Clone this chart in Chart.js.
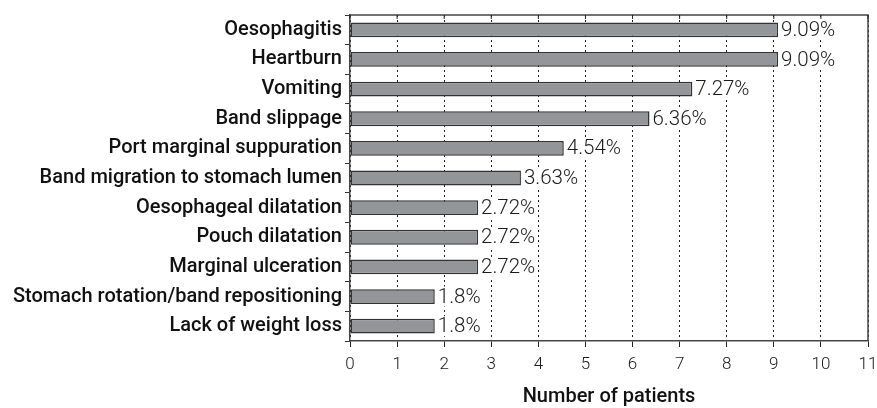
<!DOCTYPE html>
<html>
<head>
<meta charset="utf-8">
<script src="https://cdn.jsdelivr.net/npm/chart.js@4/dist/chart.umd.min.js"></script>
<style>
html,body{margin:0;padding:0;background:#fff;}
#wrap{width:877px;height:408px;}
</style>
</head>
<body>
<div id="wrap"><canvas id="c" width="877" height="408"></canvas></div>
<script>
const categories = [
  "Oesophagitis",
  "Heartburn",
  "Vomiting",
  "Band slippage",
  "Port marginal suppuration",
  "Band migration to stomach lumen",
  "Oesophageal dilatation",
  "Pouch dilatation",
  "Marginal ulceration",
  "Stomach rotation/band repositioning",
  "Lack of weight loss"
];
const values = [9.09, 9.09, 7.27, 6.36, 4.54, 3.63, 2.72, 2.72, 2.72, 1.8, 1.8];
const valueLabels = ["9.09%", "9.09%", "7.27%", "6.36%", "4.54%", "3.63%", "2.72%", "2.72%", "2.72%", "1.8%", "1.8%"];
const xTicks = [0,1,2,3,4,5,6,7,8,9,10,11];
const xTitle = "Number of patients";

const FONT = "Roboto, 'DejaVu Sans', sans-serif";

const labelPlugin = {
  id: 'valueLabels',
  afterDatasetsDraw(chart) {
    const ctx = chart.ctx;
    const meta = chart.getDatasetMeta(0);
    ctx.save();
    ctx.font = "300 20.5px " + FONT;
    ctx.textAlign = "left";
    ctx.textBaseline = "middle";
    meta.data.forEach((bar, i) => {
      const w = ctx.measureText(valueLabels[i]).width;
      ctx.fillStyle = "#ffffff";
      ctx.fillRect(bar.x + 2, bar.y - 10, w + 2, 20);
      ctx.fillStyle = "#1a1a1a";
      ctx.fillText(valueLabels[i], bar.x + 3, bar.y + 1);
    });
    ctx.restore();
  }
};

const framePlugin = {
  id: 'frame',
  afterDraw(chart) {
    const {ctx, chartArea} = chart;
    const xs = chart.scales.x;
    ctx.save();
    ctx.strokeStyle = "#444";
    ctx.lineWidth = 1.5;
    ctx.beginPath();
    ctx.moveTo(chartArea.left, chartArea.top);
    ctx.lineTo(chartArea.right, chartArea.top);
    ctx.lineTo(chartArea.right, chartArea.bottom);
    ctx.stroke();
    ctx.lineWidth = 1;
    ctx.strokeStyle = "#222";
    xTicks.forEach(v => {
      const px = xs.getPixelForValue(v);
      ctx.beginPath();
      ctx.moveTo(px, chartArea.top);
      ctx.lineTo(px, chartArea.top + 4);
      ctx.stroke();
    });
    ctx.restore();
  }
};

new Chart(document.getElementById('c'), {
  type: 'bar',
  data: {
    labels: categories,
    datasets: [{
      data: values,
      backgroundColor: '#939598',
      borderColor: '#333333',
      borderWidth: 1.5,
      borderSkipped: false,
      barPercentage: 0.5,
      categoryPercentage: 1.0
    }]
  },
  options: {
    indexAxis: 'y',
    responsive: false,
    animation: false,
    devicePixelRatio: 1,
    layout: { padding: { top: 14, right: 0, left: 0, bottom: 0 } },
    plugins: { legend: { display: false }, tooltip: { enabled: false } },
    scales: {
      x: {
        min: 0, max: 11,
        afterFit(s) { s.height = 67; s.paddingLeft = 0; s.paddingRight = 9; },
        afterBuildTicks(s) { s.ticks = xTicks.map(v => ({ value: v })); },
        ticks: {
          color: '#1a1a1a',
          font: { family: FONT, size: 17, weight: '300' },
          padding: 8,
          callback: (v) => String(v)
        },
        grid: {
          color: '#222',
          lineWidth: 1,
          tickLength: 6,
          tickColor: '#222',
          tickBorderDash: [],
          drawTicks: true
        },
        border: { display: true, color: '#444', width: 1.5, dash: [2, 3] },
        title: {
          display: true,
          text: xTitle,
          color: '#111',
          font: { family: FONT, size: 20, weight: '500', lineHeight: 1.0 },
          padding: { top: 4, bottom: 1 }
        }
      },
      y: {
        afterFit(s) { s.width = 350; },
        ticks: {
          color: '#111',
          font: { family: FONT, size: 20, weight: '500' },
          padding: 3
        },
        grid: {
          offset: true,
          drawOnChartArea: false,
          tickLength: 5,
          color: '#333',
          lineWidth: 1
        },
        border: { display: true, color: '#444', width: 1.5 }
      }
    }
  },
  plugins: [labelPlugin, framePlugin]
});
</script>
</body>
</html>
